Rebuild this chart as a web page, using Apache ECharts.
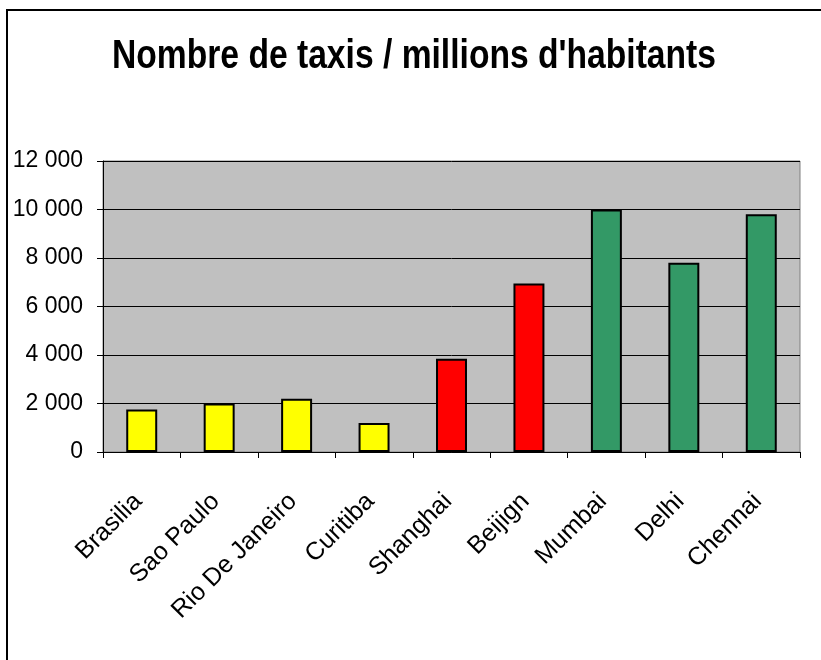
<!DOCTYPE html>
<html>
<head>
<meta charset="utf-8">
<script src="https://cdn.jsdelivr.net/npm/echarts@6/dist/echarts.min.js"></script>
<style>
  html, body { margin: 0; padding: 0; background: #ffffff; }
  #chart { width: 821px; height: 660px; }
</style>
</head>
<body>
<div id="chart"></div>
<script>
// Taxis per million inhabitants, by city
const cities = ['Brasilia', 'Sao Paulo', 'Rio De Janeiro', 'Curitiba', 'Shanghai', 'Beijign', 'Mumbai', 'Delhi', 'Chennai'];
const taxisPerMillion = [1750, 2000, 2200, 1200, 3850, 6950, 10000, 7800, 9800];
// Bar fill per country group: Brazil, China, India
const barColors = ['#ffff00', '#ffff00', '#ffff00', '#ffff00', '#ff0000', '#ff0000', '#339966', '#339966', '#339966'];
const yTicks = { min: 0, max: 12000, step: 2000 };
const chartTitle = "Nombre de taxis / millions d'habitants";

const FONT = '"Liberation Sans", Arial, sans-serif';

function formatThousands(v) {
  return String(v).replace(/\B(?=(\d{3})+(?!\d))/g, ' ');
}

const chart = echarts.init(document.getElementById('chart'), null, { renderer: 'canvas' });

chart.setOption({
  animation: false,
  backgroundColor: '#ffffff',
  graphic: [
    {
      // outer frame
      type: 'rect',
      silent: true,
      shape: { x: 7, y: 10, width: 840, height: 700 },
      style: { fill: 'none', stroke: '#000000', lineWidth: 2 }
    },
    {
      // condensed bold title
      type: 'text',
      silent: true,
      x: 414,
      y: 36,
      scaleX: 0.82,
      style: {
        text: chartTitle,
        fill: '#000000',
        font: 'bold 41px "Liberation Sans", Arial, sans-serif',
        align: 'center',
        verticalAlign: 'top'
      }
    }
  ],
  grid: {
    left: 103, right: 21, top: 161, bottom: 208,
    show: true,
    backgroundColor: '#c0c0c0',
    borderColor: '#808080',
    borderWidth: 1
  },
  xAxis: {
    type: 'category',
    data: cities,
    boundaryGap: true,
    axisLine: { show: true, lineStyle: { color: '#000000', width: 1 } },
    axisTick: { show: true, length: 6, alignWithLabel: false, lineStyle: { color: '#000000' } },
    axisLabel: {
      interval: 0,
      rotate: 45,
      margin: 42,
      padding: [0, 5, 10, 0],
      fontFamily: FONT,
      fontSize: 25,
      color: '#000000'
    },
    splitLine: { show: false }
  },
  yAxis: {
    type: 'value',
    min: yTicks.min,
    max: yTicks.max,
    interval: yTicks.step,
    axisLine: { show: true, lineStyle: { color: '#000000', width: 1 } },
    axisTick: { show: true, length: 6, lineStyle: { color: '#000000' } },
    axisLabel: {
      margin: 20,
      fontFamily: FONT,
      fontSize: 23,
      color: '#000000',
      formatter: formatThousands
    },
    splitLine: { show: true, lineStyle: { color: '#000000', width: 1 } }
  },
  series: [{
    type: 'bar',
    barWidth: '40%',
    data: taxisPerMillion.map((v, i) => ({
      value: v,
      itemStyle: { color: barColors[i], borderColor: '#000000', borderWidth: 2 }
    }))
  }]
});
</script>
</body>
</html>
